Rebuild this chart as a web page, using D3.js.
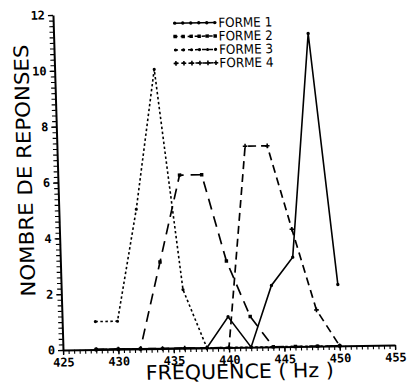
<!DOCTYPE html>
<html>
<head>
<meta charset="utf-8">
<script src="https://cdn.jsdelivr.net/npm/d3@7"></script>
<style>
  body { margin: 0; background: #fff; }
  svg { display: block; }
</style>
</head>
<body>
<div id="chart"></div>
<script>
// data
const freqs = [428, 430, 432, 434, 436, 438, 440, 442, 444, 446, 448, 450];
const forme1 = [0, 0, 0, 0, 0, 0, 1.1, 0, 2.2, 3.2, 11.2, 2.2];
const forme2 = [0, 0, 0, 3.1, 6.2, 6.2, 3.1, 1.1, 0, 0, 0, 0];
const forme3 = [1, 1, 5, 10, 2.1, 0, 0, 0, 0, 0, 0, 0];
const forme4 = [0, 0, 0, 0, 0, 0, 0, 7.2, 7.2, 4.2, 1.3, 0];
const seriesNames = ["FORME 1", "FORME 2", "FORME 3", "FORME 4"];
const xTicks = [425, 430, 435, 440, 445, 450, 455];
const yTicks = [0, 2, 4, 6, 8, 10, 12];

const width = 407, height = 385;

const svg = d3.select("#chart").append("svg")
    .attr("width", width)
    .attr("height", height);

// the scanned plot is slightly skewed, so draw everything in a sheared frame
// whose origin is the axes' corner
const g = svg.append("g")
    .attr("transform", "matrix(1,-0.015,0.03,1,63,350)");

const xScale = d3.scaleLinear().domain([425, 455]).range([0, 332]);
const yScale = d3.scaleLinear().domain([0, 12]).range([0, -335]);

const series = [
    { name: seriesNames[0], values: forme1, dash: null, width: 1.6, symbol: d3.symbolCircle, size: 9 },
    { name: seriesNames[1], values: forme2, dash: "11,7", width: 1.7, symbol: d3.symbolSquare, size: 12 },
    { name: seriesNames[2], values: forme3, dash: "2.5,2.5", width: 1.6, symbol: d3.symbolCircle, size: 8 },
    { name: seriesNames[3], values: forme4, dash: "8,5", width: 1.7, symbol: d3.symbolCross, size: 12 }
];

const mono = "'DejaVu Sans Mono', monospace";
const sans = "'DejaVu Sans', sans-serif";

// minor ticks
g.append("g")
    .call(d3.axisBottom(xScale).tickValues(d3.range(425, 455.01, 0.5)).tickSize(4).tickFormat(""))
    .call(a => a.select(".domain").remove())
    .call(a => a.selectAll("line").attr("stroke-width", 1.1));

g.append("g")
    .call(d3.axisLeft(yScale).tickValues(d3.range(0, 12.01, 0.2)).tickSize(4).tickFormat(""))
    .call(a => a.select(".domain").remove())
    .call(a => a.selectAll("line").attr("stroke-width", 1.1));

// major ticks + labels
const xAxis = g.append("g")
    .call(d3.axisBottom(xScale).tickValues(xTicks).tickSize(5).tickSizeOuter(0).tickPadding(3));
xAxis.select(".domain").attr("stroke-width", 2);
xAxis.selectAll("line").attr("stroke-width", 1.4);
xAxis.selectAll("text")
    .style("font-family", mono)
    .style("font-size", "12px")
    .style("font-weight", "bold")
    .attr("fill", "#000");

const yAxis = g.append("g")
    .call(d3.axisLeft(yScale).tickValues(yTicks).tickSize(5).tickSizeOuter(0).tickPadding(3));
yAxis.select(".domain").attr("stroke-width", 2);
yAxis.selectAll("line").attr("stroke-width", 1.4);
yAxis.selectAll("text")
    .style("font-family", mono)
    .style("font-size", "12px")
    .style("font-weight", "bold")
    .attr("fill", "#000");

// axis titles
g.append("text")
    .attr("x", 176)
    .attr("y", 31)
    .attr("text-anchor", "middle")
    .attr("textLength", 188)
    .attr("lengthAdjust", "spacingAndGlyphs")
    .style("font-family", sans)
    .style("font-size", "20px")
    .text("FREQUENCE ( Hz )");

g.append("text")
    .attr("transform", "translate(-26,-180) rotate(-90)")
    .attr("text-anchor", "middle")
    .attr("textLength", 252)
    .attr("lengthAdjust", "spacingAndGlyphs")
    .style("font-family", sans)
    .style("font-size", "20px")
    .text("NOMBRE DE REPONSES");

// lines
const line = d3.line()
    .x((d, i) => xScale(freqs[i]))
    .y(d => yScale(d));

series.forEach(s => {
    g.append("path")
        .datum(s.values)
        .attr("d", line)
        .attr("fill", "none")
        .attr("stroke", "#000")
        .attr("stroke-width", s.width)
        .attr("stroke-dasharray", s.dash);

    g.selectAll(null)
        .data(s.values)
        .enter().append("path")
        .attr("d", d3.symbol().type(s.symbol).size(s.size))
        .attr("transform", (d, i) => `translate(${xScale(freqs[i])}, ${yScale(d)})`)
        .attr("fill", "#000");
});

// legend
const legend = g.selectAll(".legend")
    .data(series)
    .enter().append("g")
    .attr("class", "legend")
    .attr("transform", (d, i) => `translate(120, ${-325 + i * 13.4})`);

legend.append("line")
    .attr("x1", 0)
    .attr("x2", 43)
    .attr("stroke", "#000")
    .attr("stroke-width", 1.5)
    .attr("stroke-dasharray", d => d.dash ? "4,3" : null);

legend.each(function(d) {
    d3.select(this).selectAll(".mk")
        .data(d3.range(6))
        .enter().append("path")
        .attr("class", "mk")
        .attr("d", d3.symbol().type(d.symbol).size(d.size))
        .attr("transform", k => `translate(${1.5 + k * 8}, 0)`)
        .attr("fill", "#000");
});

legend.append("text")
    .attr("x", 45)
    .attr("y", 0)
    .attr("dy", "0.36em")
    .attr("textLength", 54)
    .attr("lengthAdjust", "spacingAndGlyphs")
    .style("font-family", sans)
    .style("font-size", "13px")
    .text(d => d.name.replace(" ", "  "));
</script>
</body>
</html>
